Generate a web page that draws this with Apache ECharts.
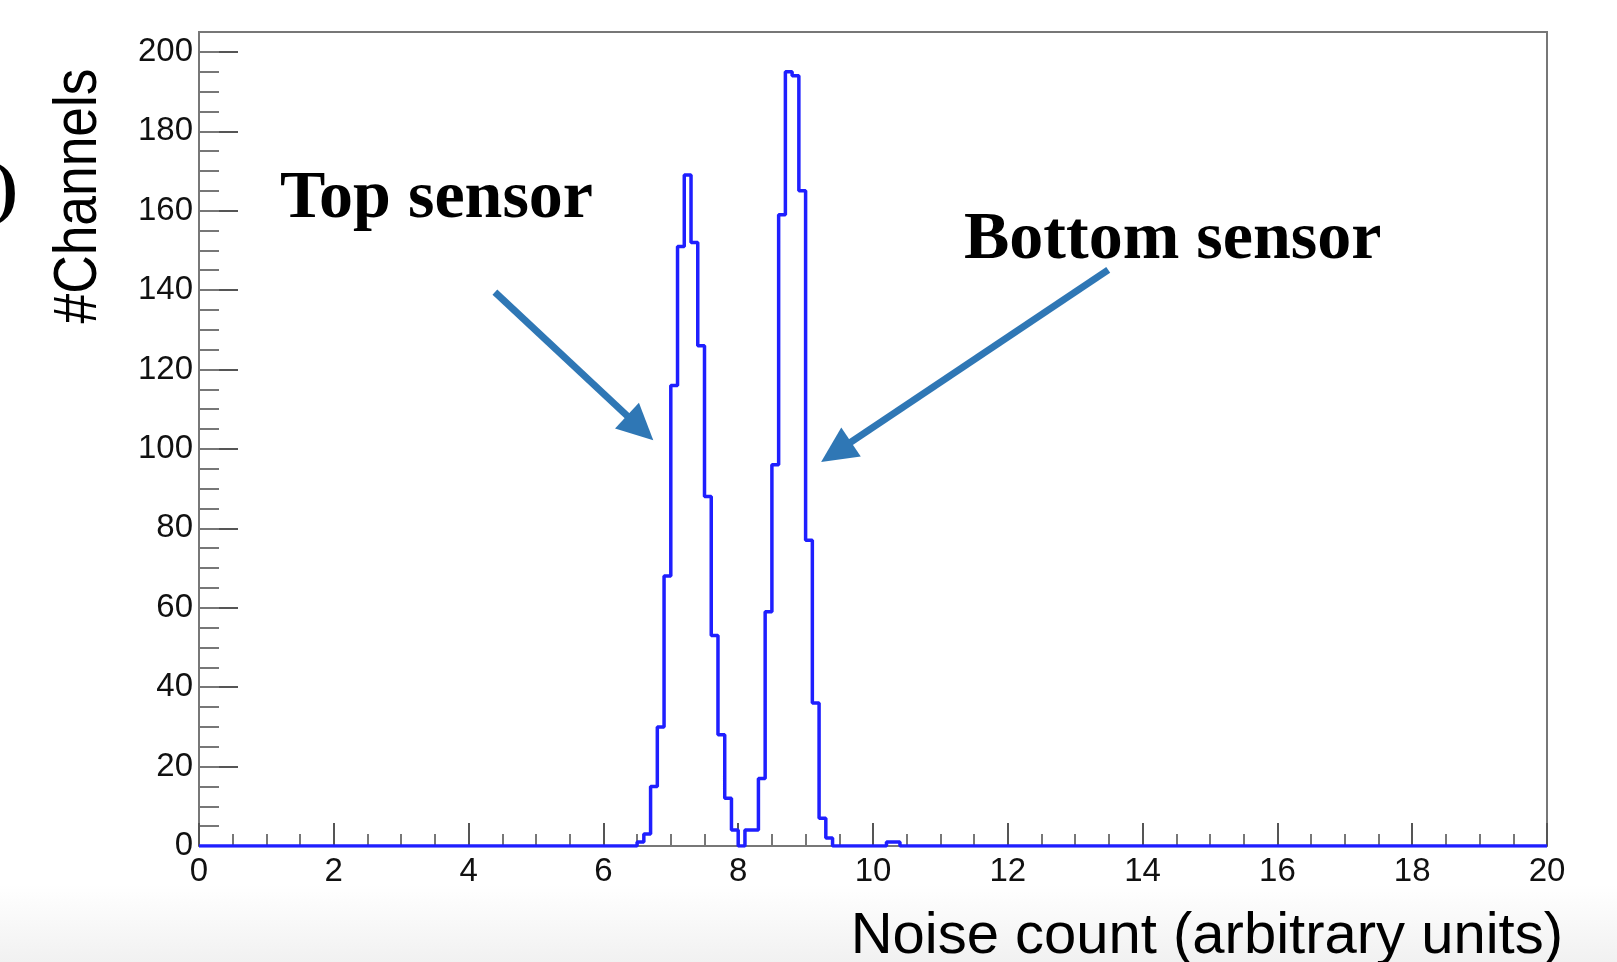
<!DOCTYPE html>
<html>
<head>
<meta charset="utf-8">
<script src="https://cdn.jsdelivr.net/npm/echarts@6/dist/echarts.min.js"></script>
<style>
  html, body { margin: 0; padding: 0; background: #fff; }
  #chart { width: 1617px; height: 962px; }
</style>
</head>
<body>
<div id="chart"></div>
<script>
// histogram binning: 200 bins of 0.1 between 0 and 20
const binWidth = 0.1
const binCount = 200
// entries per bin (bins 0..199)
const counts = [
  0, 0, 0, 0, 0, 0, 0, 0, 0, 0, 0, 0, 0, 0, 0, 0, 0, 0, 0, 0,
  0, 0, 0, 0, 0, 0, 0, 0, 0, 0, 0, 0, 0, 0, 0, 0, 0, 0, 0, 0,
  0, 0, 0, 0, 0, 0, 0, 0, 0, 0, 0, 0, 0, 0, 0, 0, 0, 0, 0, 0,
  0, 0, 0, 0, 0, 1, 3, 15, 30, 68, 116, 151, 169, 152, 126, 88, 53, 28, 12, 4,
  0, 4, 4, 17, 59, 96, 159, 195, 194, 165, 77, 36, 7, 2, 0, 0, 0, 0, 0, 0,
  0, 0, 1, 1, 0, 0, 0, 0, 0, 0, 0, 0, 0, 0, 0, 0, 0, 0, 0, 0,
  0, 0, 0, 0, 0, 0, 0, 0, 0, 0, 0, 0, 0, 0, 0, 0, 0, 0, 0, 0,
  0, 0, 0, 0, 0, 0, 0, 0, 0, 0, 0, 0, 0, 0, 0, 0, 0, 0, 0, 0,
  0, 0, 0, 0, 0, 0, 0, 0, 0, 0, 0, 0, 0, 0, 0, 0, 0, 0, 0, 0,
  0, 0, 0, 0, 0, 0, 0, 0, 0, 0, 0, 0, 0, 0, 0, 0, 0, 0, 0, 0
]
const xRange = [0, 20]
const yRange = [0, 205]
const xTitle = 'Noise count (arbitrary units)'
const yTitle = '#Channels'
// annotation arrows, in data coordinates [x, y]
const topArrow = { from: [4.39, 139.5], to: [6.74, 102.2] }
const bottomArrow = { from: [13.49, 145.1], to: [9.23, 96.7] }

const histColor = '#1f1fff'
const arrowColor = '#2f77b5'
const frameColor = '#777'
const sansFont = "'Liberation Sans', Arial, sans-serif"

// low edge of each bin + closing edge, drawn as a step line
const histData = counts.map((c, i) => [Math.round(i * binWidth * 10) / 10, c])
histData.push([xRange[1], counts[binCount - 1]])

const chart = echarts.init(document.getElementById('chart'), null, { renderer: 'canvas' })

const tickLabel = {
  color: '#111',
  fontSize: 33,
  fontFamily: sansFont
}

chart.setOption({
  animation: false,
  backgroundColor: '#fff',
  grid: {
    left: 199,
    right: 70,
    top: 32,
    bottom: 116,
    show: true,
    borderColor: frameColor,
    borderWidth: 2,
    backgroundColor: 'transparent'
  },
  xAxis: [{
    type: 'value',
    min: xRange[0],
    max: xRange[1],
    interval: 2,
    axisLine: { lineStyle: { color: frameColor, width: 2 } },
    axisTick: { inside: true, length: 23, lineStyle: { color: '#555', width: 2 } },
    minorTick: { show: true, splitNumber: 4, length: 12, lineStyle: { color: '#777', width: 2 } },
    axisLabel: Object.assign({ margin: 9 }, tickLabel),
    splitLine: { show: false },
    minorSplitLine: { show: false }
  }],
  yAxis: [{
    type: 'value',
    min: yRange[0],
    max: yRange[1],
    interval: 20,
    axisLine: { show: true, lineStyle: { color: frameColor, width: 2 } },
    axisTick: { show: true, inside: true, length: 39, lineStyle: { color: '#555', width: 2 } },
    axisLabel: Object.assign({ margin: 6, showMaxLabel: false }, tickLabel),
    splitLine: { show: false }
  }, {
    // second axis only to draw the minor ticks every 5
    type: 'value',
    position: 'left',
    min: yRange[0],
    max: yRange[1],
    interval: 5,
    axisLine: { show: false },
    axisTick: { show: true, inside: true, length: 20, lineStyle: { color: '#777', width: 2 } },
    axisLabel: { show: false },
    splitLine: { show: false }
  }],
  series: [{
    name: 'noise',
    type: 'line',
    step: 'end',
    xAxisIndex: 0,
    yAxisIndex: 0,
    showSymbol: false,
    symbol: 'none',
    lineStyle: { color: histColor, width: 3.5 },
    data: histData,
    z: 5
  }]
})

// arrow = shaft + triangular head, placed from data coordinates
function arrow(a) {
  const p0 = chart.convertToPixel({ gridIndex: 0 }, a.from)
  const p1 = chart.convertToPixel({ gridIndex: 0 }, a.to)
  const dx = p1[0] - p0[0]
  const dy = p1[1] - p0[1]
  const len = Math.sqrt(dx * dx + dy * dy)
  const ux = dx / len
  const uy = dy / len
  const headLen = 36
  const headHalf = 17.5
  const bx = p1[0] - ux * headLen
  const by = p1[1] - uy * headLen
  return [{
    type: 'line',
    z: 20,
    shape: { x1: p0[0], y1: p0[1], x2: bx + ux * 2, y2: by + uy * 2 },
    style: { stroke: arrowColor, lineWidth: 7 }
  }, {
    type: 'polygon',
    z: 20,
    shape: {
      points: [
        [p1[0], p1[1]],
        [bx - uy * headHalf, by + ux * headHalf],
        [bx + uy * headHalf, by - ux * headHalf]
      ]
    },
    style: { fill: arrowColor }
  }]
}

chart.setOption({
  graphic: [
    {
      // faint grey band at the bottom of the picture
      type: 'rect',
      z: -10,
      shape: { x: 0, y: 885, width: 1617, height: 77 },
      style: {
        fill: new echarts.graphic.LinearGradient(0, 0, 0, 1, [
          { offset: 0, color: '#ffffff' },
          { offset: 1, color: '#f1f1f1' }
        ])
      }
    },
    {
      type: 'text',
      z: 20,
      x: 1563,
      y: 937,
      style: { text: xTitle, align: 'right', verticalAlign: 'middle', fill: '#000', font: "58px 'Liberation Sans', Arial, sans-serif" }
    },
    {
      // condensed look of the original title
      type: 'text',
      z: 20,
      x: 79,
      y: 196,
      rotation: Math.PI / 2,
      scaleX: 0.86,
      style: { text: yTitle, align: 'center', verticalAlign: 'middle', fill: '#000', font: "62px 'Liberation Sans', Arial, sans-serif" }
    },
    {
      // cut-off panel label at the left edge
      type: 'text',
      z: 20,
      x: 18,
      y: 192,
      style: { text: ')', align: 'right', verticalAlign: 'middle', fill: '#000', font: "bold 68px 'Liberation Serif', 'Times New Roman', serif" }
    },
    {
      type: 'text',
      z: 20,
      x: 280,
      y: 199,
      style: { text: 'Top sensor', align: 'left', verticalAlign: 'middle', fill: '#000', font: "bold 68px 'Liberation Serif', 'Times New Roman', serif" }
    },
    {
      type: 'text',
      z: 20,
      x: 964,
      y: 240,
      style: { text: 'Bottom sensor', align: 'left', verticalAlign: 'middle', fill: '#000', font: "bold 68px 'Liberation Serif', 'Times New Roman', serif" }
    }
  ].concat(arrow(topArrow), arrow(bottomArrow))
})
</script>
</body>
</html>
